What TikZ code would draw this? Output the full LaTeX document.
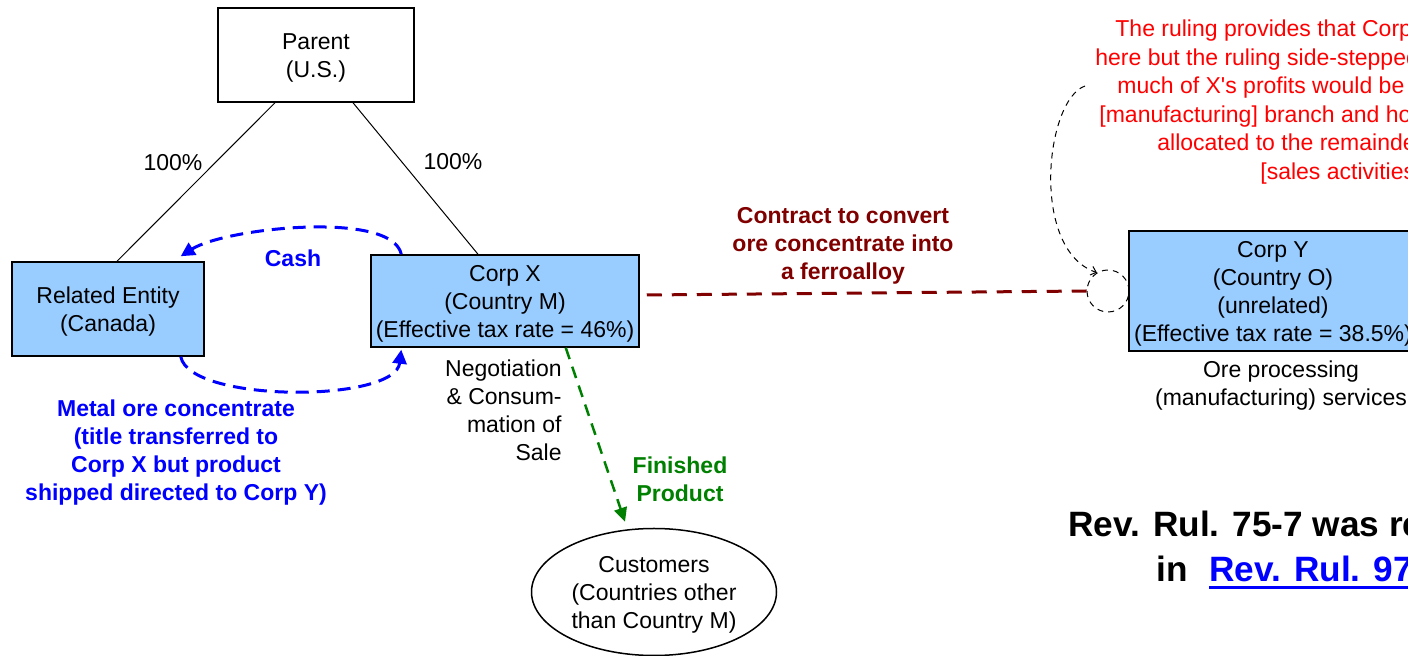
\documentclass[tikz,border=0pt]{standalone}
\usepackage{fontspec}
\setmainfont{Liberation Sans}
\usetikzlibrary{arrows.meta,calc,positioning,shapes.geometric}
\definecolor{boxblue}{HTML}{99CCFF}
\definecolor{contractred}{HTML}{800000}
\definecolor{prodgreen}{HTML}{008000}
\newcommand{\capstrut}{\rule{0pt}{11pt}}

\begin{document}
\begin{tikzpicture}[x=0.5pt, y=-0.5pt,
  every node/.style={font=\fontsize{11.5}{14}\selectfont, inner sep=0pt, align=center},
  entity/.style={draw, line width=0.75pt, fill=boxblue},
  flow/.style={dash pattern=on 6.5pt off 4pt, line width=1.5pt, -{Triangle[length=7pt,width=7pt]}},
  lbl/.style={font=\fontsize{11.5}{14}\selectfont\bfseries},
  bigtxt/.style={font=\fontsize{17.6}{22}\selectfont\bfseries, anchor=base west}]

\path[use as bounding box] (0,0) rectangle (1408,656);
\clip (0,0) rectangle (1408,656);

% --- Ownership ---
\node[draw, line width=0.75pt, minimum width=98pt, minimum height=47pt] (parent) at (316,55) {\capstrut Parent\\(U.S.)};
\node[entity, minimum width=96pt, minimum height=47pt] (related) at (108,309) {\capstrut Related Entity\\(Canada)};
\node[entity, minimum width=134pt, minimum height=46pt] (corpx) at (505,301)
      {\capstrut Corp X\\(Country M)\\(Effective tax rate = 46\%)};
\draw[line width=0.5pt] ($(parent.south)+(-41,0)$) -- ($(related.north)+(9,0)$);
\draw[line width=0.5pt] ($(parent.south)+(37,0)$) -- ($(corpx.north)+(-27,0)$);
\node (own1) at (173,163) {100\%};
\node (own2) at (453,162) {100\%};

% --- Cash / ore loop ---
\draw[flow, blue] ($(corpx.north west)+(31,0)$) .. controls (392,210) and (225,228) .. ($(related.north east)+(-24,-5)$);
\node[lbl, text=blue] (cash) at (293,258) {Cash};
\draw[flow, blue] ($(related.south east)+(-24,0)$) .. controls (190,403) and (395,403) .. ($(corpx.south west)+(31,2)$);
\node[lbl, text=blue] (ore) at (176,450)
      {\capstrut Metal ore concentrate\\(title transferred to\\Corp X but product\\shipped directed to Corp Y)};

% --- Contract with Corp Y ---
\node[entity, minimum width=144pt, minimum height=60pt] (corpy) at (1273,291)
      {\capstrut Corp Y\\(Country O)\\(unrelated)\\(Effective tax rate = 38.5\%)};
\node (orelbl) at (1281,383) {\capstrut Ore processing\\(manufacturing) services};
\node[draw, circle, line width=0.5pt, dash pattern=on 3pt off 2.5pt, minimum size=21pt] (branch) at (1108,291) {};
\draw[contractred, line width=1.5pt, dash pattern=on 7.5pt off 5pt] ($(corpx.east)+(7,-6)$) -- (branch.west);
\node[lbl, text=contractred] (contract) at (843,243) {\capstrut Contract to convert\\ore concentrate into\\a ferroalloy};

% --- Sale to customers ---
\node[draw, ellipse, line width=0.75pt, minimum width=122.5pt, minimum height=63.5pt] (cust) at (654,592)
      {\capstrut Customers\\(Countries other\\than Country M)};
\draw[prodgreen, line width=1.25pt, dash pattern=on 6pt off 4pt, -{Triangle[length=7pt,width=6.5pt]}]
      ($(corpx.south east)+(-74,0)$) -- ($(cust.north)+(-29,-6)$);
\node[lbl, text=prodgreen] (finished) at (680,479) {Finished\\Product};
\node[anchor=east, align=right] (negot) at (562,408) {\capstrut Negotiation\\\& Consum-\\mation of\\Sale};

% --- Note on the branch (runs off the right edge) ---
\node[text=red, anchor=base west] (note1) at (1115,37) {The ruling provides that Corp};
\node[text=red, anchor=base west] (note2) at (1095,66) {here but the ruling side-stepped};
\node[text=red, anchor=base west] (note3) at (1117,94) {much of X\textquotesingle s profits would be a};
\node[text=red, anchor=base west] (note4) at (1099,123) {[manufacturing] branch and how};
\node[text=red, anchor=base west] (note5) at (1157,151) {allocated to the remainder};
\node[text=red, anchor=base west] (note6) at (1260,180) {[sales activities};
\coordinate (notestart) at (1085,86);
\draw[line width=0.5pt, dash pattern=on 3pt off 2.5pt, -{Straight Barb[length=2.5pt,width=4.5pt]}]
      (notestart) .. controls (1045,100) and (1030,250) .. (branch.121);

% --- Revocation ---
\node[bigtxt] (rev1) at (1068,537) {Rev. Rul. 75-7 was re};
\node[bigtxt] (rev2) at (1156,582) {in};
\node[bigtxt, text=blue] (rev3) at (1209,582) {Rev. Rul. 97};
\draw[blue, line width=1.5pt] ($(rev3.base west)+(0,6)$) -- ($(rev3.base east)+(40,6)$);

\end{tikzpicture}
\end{document}
